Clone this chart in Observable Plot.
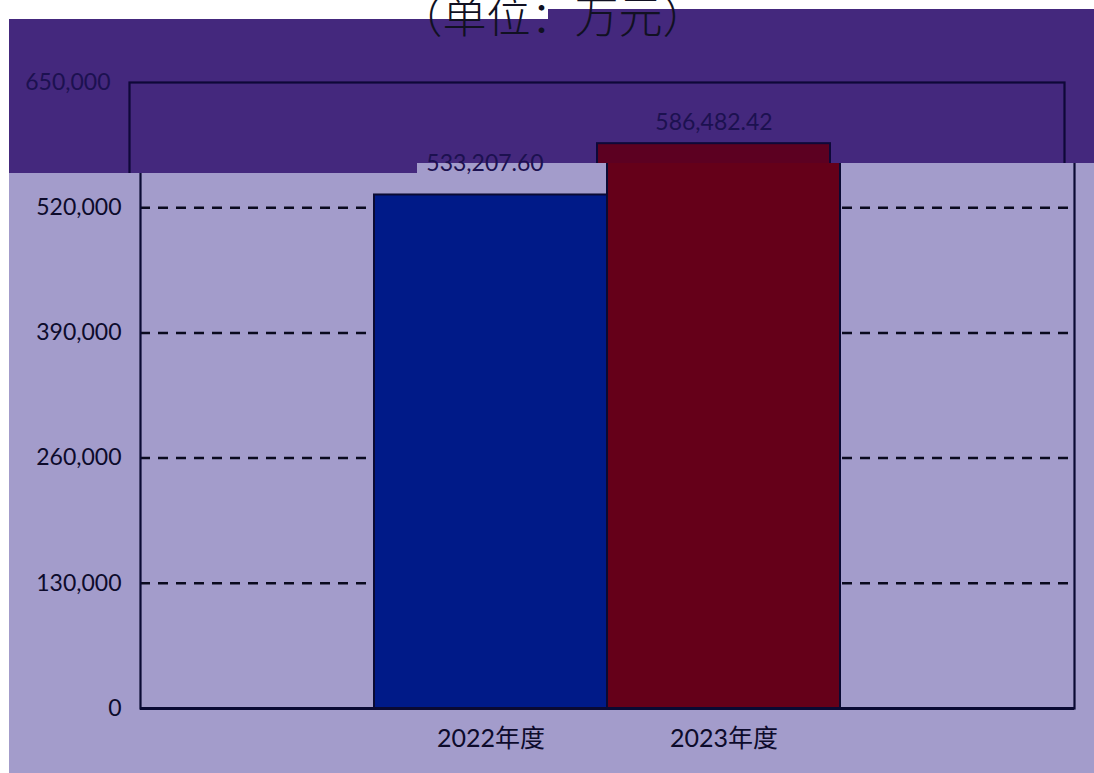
<!DOCTYPE html>
<html>
<head>
<meta charset="utf-8">
<script src="https://cdn.jsdelivr.net/npm/d3@7"></script>
<script src="https://cdn.jsdelivr.net/npm/@observablehq/plot@0.6"></script>
<style>
  html, body { margin: 0; padding: 0; background: #ffffff; overflow: hidden; }
  #stage { position: relative; width: 1094px; height: 773px; }
  .layer { position: absolute; left: 0; top: 0; width: 1094px; height: 773px; }
  #lightbg { position: absolute; left: 9px; top: 150px; width: 1085px; height: 623px; background: #a39ccb; }
  #band { background: #44287d;
    clip-path: polygon(9px 19px, 548px 19px, 548px 9px, 1094px 9px, 1094px 163px, 417px 163px, 417px 173px, 9px 173px); }
  #title { position: absolute; left: 0; top: -8px; width: 1105px; text-align: center;
    font-family: "Noto Sans CJK SC", sans-serif; font-weight: 300; font-size: 44px; line-height: 44px; color: #111122; white-space: nowrap; }
  svg { display: block; }
</style>
</head>
<body>
<div id="stage">
  <div id="lightbg"></div>
  <div id="light" class="layer"></div>
  <div id="band" class="layer"></div>
  <div id="labels" class="layer"></div>
  <div id="title">（单位：万元）</div>
</div>
<script>
// ---- data ----
const categories = ["2022年度", "2023年度"];
const amounts = [533207.60, 586482.42];
const amountLabels = ["533,207.60", "586,482.42"];
const barColors = ["#001a88", "#650019"];
const barColorsShadow = ["#00156a", "#5c0021"];
const yTicks = [0, 130000, 260000, 390000, 520000, 650000];
const yTickLabels = ["0", "130,000", "260,000", "390,000", "520,000", "650,000"];
const gridTicks = [130000, 260000, 390000, 520000];

const data = categories.map((c, i) => ({cat: c, value: amounts[i], label: amountLabels[i], idx: i}));

const FONT = "Lato, 'Noto Sans CJK SC', sans-serif";

function base(marginLeft, marginRight, marks) {
  return Plot.plot({
    width: 1094,
    height: 773,
    marginLeft,
    marginRight,
    marginTop: 82,
    marginBottom: 65,
    x: {type: "band", domain: categories, paddingInner: 0, paddingOuter: 1, label: null, axis: null},
    y: {domain: [0, 650000], label: null, axis: null},
    style: {background: "transparent", fontFamily: FONT, fontSize: "23px", overflow: "visible"},
    marks
  });
}

const fmtTick = d => yTickLabels[yTicks.indexOf(d)];

function chartMarks(fills, lineColor) {
  return [
    Plot.gridY(gridTicks, {stroke: "#0a0a1e", strokeOpacity: 1, strokeWidth: 2.5, strokeDasharray: "10,8"}),
    Plot.barY(data, {x: "cat", y: "value", fill: d => fills[d.idx], stroke: lineColor, strokeWidth: 2}),
    Plot.frame({stroke: lineColor, strokeWidth: 2.2}),
    Plot.ruleY([0], {stroke: lineColor, strokeWidth: 3})
  ];
}

// light (main) copy: tick labels below the band and the category axis
const lightMarks = chartMarks(barColors, "#0a0a33");
lightMarks.push(
  Plot.axisY({ticks: yTicks.slice(0, 5), tickSize: 0, tickPadding: 19, fontSize: 23, fill: "#0d0b2b", tickFormat: fmtTick}),
  Plot.axisX({tickSize: 0, tickPadding: 21, fontSize: 25, fill: "#0d0b2b"})
);
document.getElementById("light").append(base(140, 20, lightMarks));

// dark shifted copy inside the band: top tick label and the 2023 value label
const darkMarks = chartMarks(barColorsShadow, "#0e0838");
darkMarks.push(
  Plot.axisY({ticks: yTicks.slice(5), tickSize: 0, tickPadding: 19, fontSize: 23, fill: "#1c1150", tickFormat: fmtTick}),
  Plot.text(data.filter(d => d.idx === 1), {x: "cat", y: "value", text: "label", dy: -21, fontSize: 23, fill: "#1c1150"})
);
document.getElementById("band").append(base(129, 30, darkMarks));

// top layer: the 2022 value label that straddles the band edge
document.getElementById("labels").append(
  base(129, 30, [
    Plot.text(data.filter(d => d.idx === 0), {x: "cat", y: "value", text: "label", dx: 4, dy: -31, fontSize: 23, fill: "#1c1150"})
  ])
);
</script>
</body>
</html>
